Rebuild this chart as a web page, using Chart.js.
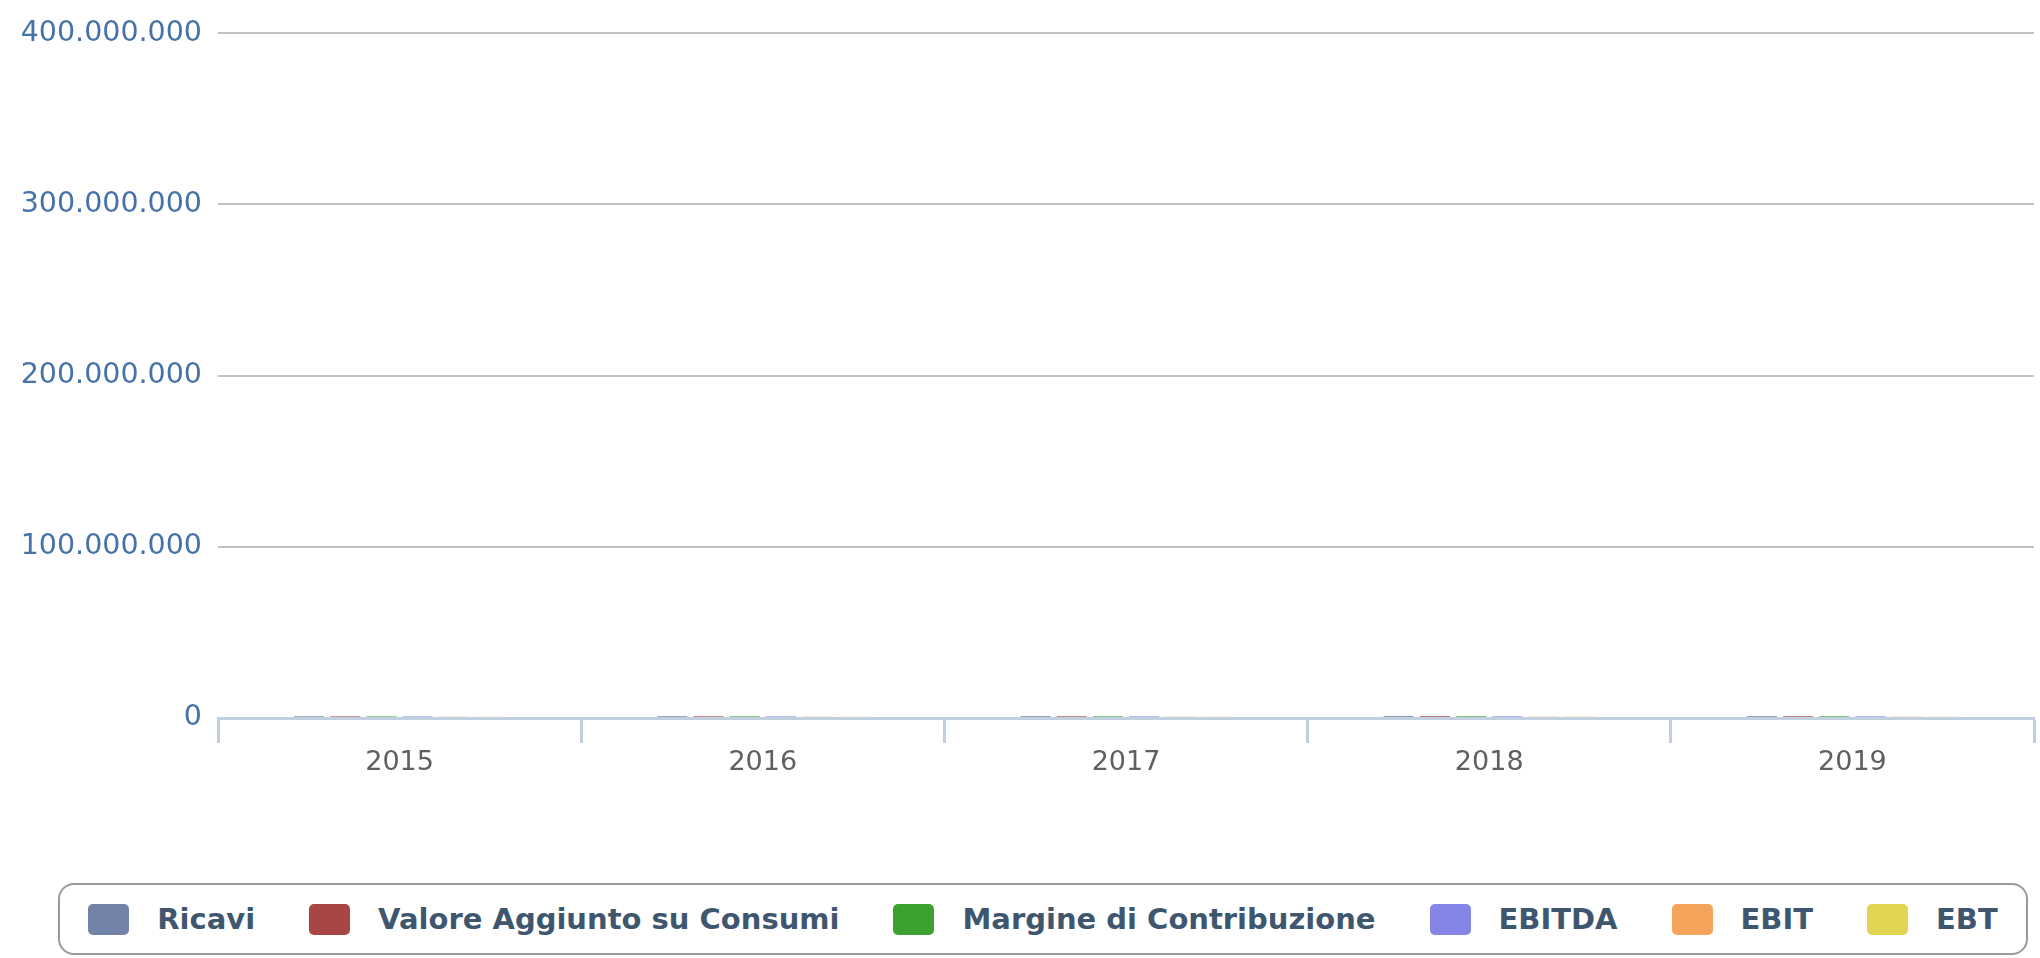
<!DOCTYPE html>
<html>
<head>
<meta charset="utf-8">
<script src="https://cdn.jsdelivr.net/npm/chart.js@4"></script>
<style>
  html, body { margin: 0; padding: 0; background: #ffffff; }
  #wrap { position: relative; width: 2040px; height: 958px; }
  #c { position: absolute; left: 0; top: 0; }
  #legend {
    position: absolute; left: 58px; top: 883px; width: 1966px; height: 68px;
    border: 2px solid #999999; border-radius: 16px;
    display: flex; align-items: center; justify-content: center;
    font-family: 'DejaVu Sans', sans-serif; font-weight: bold; font-size: 29px; color: #3E576F;
  }
  .item { display: flex; align-items: center; margin: 0 27px; white-space: nowrap; }
  .sw { width: 41px; height: 31px; border-radius: 5px; margin-right: 28px; }
</style>
</head>
<body>
<div id="wrap">
  <canvas id="c" width="2040" height="860"></canvas>
  <div id="legend"></div>
</div>
<script>
const categories = ['2015', '2016', '2017', '2018', '2019'];
const seriesNames = ['Ricavi', 'Valore Aggiunto su Consumi', 'Margine di Contribuzione', 'EBITDA', 'EBIT', 'EBT'];
const seriesColors = ['#7383A8', '#A84545', '#3BA22F', '#8585E8', '#F5A45C', '#E3D452'];
const ricavi = [980000, 1010000, 1030000, 1050000, 1020000];
const valoreAggiunto = [920000, 950000, 960000, 990000, 970000];
const margineContribuzione = [900000, 930000, 940000, 960000, 950000];
const ebitda = [880000, 910000, 920000, 940000, 930000];
const ebit = [700000, 720000, 730000, 750000, 740000];
const ebt = [680000, 700000, 710000, 730000, 720000];
const seriesValues = [ricavi, valoreAggiunto, margineContribuzione, ebitda, ebit, ebt];
const yMax = 400000000;
const yStep = 100000000;

function fmt(v) {
  return String(Math.round(v)).replace(/\B(?=(\d{3})+(?!\d))/g, '.');
}

const datasets = seriesNames.map((name, i) => ({
  label: name,
  data: seriesValues[i],
  backgroundColor: seriesColors[i],
  borderWidth: 0,
  categoryPercentage: 0.598,
  barPercentage: 0.83
}));

new Chart(document.getElementById('c'), {
  type: 'bar',
  data: { labels: categories, datasets },
  options: {
    responsive: false,
    animation: false,
    layout: { padding: { top: 28, right: 6, left: 0, bottom: 0 } },
    plugins: { legend: { display: false }, tooltip: { enabled: false } },
    scales: {
      x: {
        afterFit: (s) => { s.height = 142; },
        border: { display: true, color: '#C0D0E0', width: 3 },
        grid: {
          offset: true, drawOnChartArea: false, drawTicks: true,
          tickLength: 25, tickColor: '#C0D0E0', tickWidth: 3
        },
        ticks: {
          color: '#606060', padding: 4,
          font: { family: 'DejaVu Sans', size: 27 }
        }
      },
      y: {
        min: 0, max: yMax,
        afterFit: (s) => { s.width = 218; },
        border: { display: false },
        grid: {
          drawTicks: false, lineWidth: 2,
          color: (ctx) => (ctx.tick && ctx.tick.value === 0) ? 'rgba(0,0,0,0)' : '#C0C0C0'
        },
        ticks: {
          stepSize: yStep, padding: 16, color: '#4572A7',
          font: { family: 'DejaVu Sans', size: 28.5 },
          callback: (v) => fmt(v)
        }
      }
    }
  }
});

const lg = document.getElementById('legend');
seriesNames.forEach((name, i) => {
  const it = document.createElement('div');
  it.className = 'item';
  const sw = document.createElement('span');
  sw.className = 'sw';
  sw.style.background = seriesColors[i];
  const tx = document.createElement('span');
  tx.textContent = name;
  it.appendChild(sw);
  it.appendChild(tx);
  lg.appendChild(it);
});
</script>
</body>
</html>
